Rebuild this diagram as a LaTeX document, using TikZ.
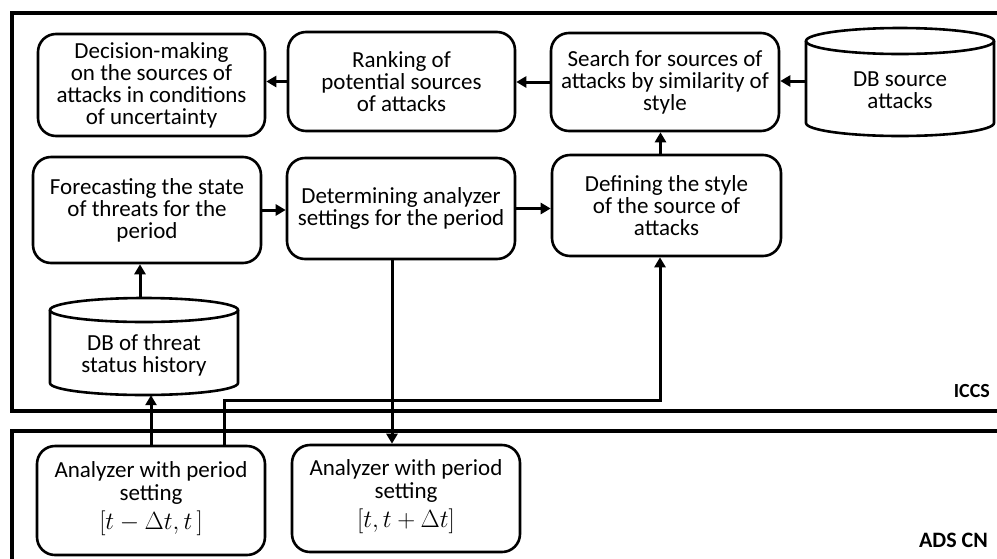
\documentclass[tikz,border=0pt]{standalone}
\usepackage{fontspec}
\setmainfont{Carlito}
\usetikzlibrary{arrows.meta}
% text block lifted inside its box without changing the box's size
\newcommand{\liftedlines}[2]{\raisebox{#1}[\height][\depth]{\begin{tabular}{@{}c@{}}#2\end{tabular}}}
\begin{document}
\begin{tikzpicture}[x=1pt,y=-1pt,
  box/.style={draw, line width=2.6pt, rounded corners=18pt, align=center,
    font=\fontsize{23}{22}\selectfont, inner sep=2pt},
  dbtext/.style={align=center, font=\fontsize{23}{22}\selectfont, inner sep=0pt},
  drum/.style={line width=2.6pt},
  frame/.style={line width=4pt},
  link/.style={line width=3pt, -{Triangle[length=10pt,width=11pt]}},
  tag/.style={font=\fontsize{20}{22}\selectfont\bfseries, inner sep=0pt}]
\useasboundingbox (0,0) rectangle (997,558);

% system frames, open on the right
\draw[frame] (1000,13) -- (12,13) -- (12,411) -- (1000,411);
\draw[frame] (1000,431) -- (12,431) -- (12,562);
\node[tag, anchor=base east] (iccs) at (990,397) {ICCS};
\node[tag, anchor=base east, font=\fontsize{22}{22}\selectfont\bfseries] (adscn) at (988,547) {ADS CN};

% process blocks
\node[box, minimum width=227pt, minimum height=102pt] (dec) at (151.5,85)
  {Decision-making\\on the sources of\\attacks in conditions\\of uncertainty};
\node[box, minimum width=227pt, minimum height=99pt] (rank) at (401.5,81.5)
  {Ranking of\\potential sources\\of attacks};
\node[box, minimum width=228pt, minimum height=98pt] (search) at (665,82)
  {Search for sources of\\attacks by similarity of\\style};
\node[box, minimum width=228pt, minimum height=106pt] (fore) at (147,210)
  {Forecasting the state\\of threats for the\\period};
\node[box, minimum width=228pt, minimum height=101pt] (det) at (401,208.5)
  {Determining analyzer\\settings for the period};
\node[box, minimum width=229pt, minimum height=101pt] (def) at (666.5,205.5)
  {Defining the style\\of the source of\\attacks};
\node[box, minimum width=228pt, minimum height=109pt, font=\fontsize{23}{23}\selectfont] (an1) at (151,500.5)
  {\liftedlines{1.5pt}{Analyzer with period\\setting\\[3pt]$[t-\Delta t,t\,]$}};
\node[box, minimum width=228pt, minimum height=107pt, font=\fontsize{23}{23}\selectfont] (an2) at (406,498.5)
  {\liftedlines{1.5pt}{Analyzer with period\\setting\\[3pt]$[t,t+\Delta t]$}};

% database drums
\draw[drum] (900,41) ellipse[x radius=94, y radius=13];
\draw[drum] (806,41) -- (806,123) arc[start angle=180, end angle=0, x radius=94, y radius=13] -- (994,41);
\node[dbtext, minimum width=188pt, minimum height=92pt] (dbs) at (900,90) {DB source\\attacks};

\draw[drum] (144,310) ellipse[x radius=94, y radius=12];
\draw[drum] (50,310) -- (50,383) arc[start angle=180, end angle=0, x radius=94, y radius=12] -- (238,310);
\node[dbtext, minimum width=188pt, minimum height=80pt] (dbt) at (144,355) {DB of threat\\status history};
\coordinate (dbttop) at (140,298);

% data flow
\draw[link] (rank.west) -- (rank.west -| dec.east);
\draw[link] (search.west) -- (search.west -| rank.east);
\draw[link] ([yshift=9pt]dbs.west) -- ([yshift=9pt]dbs.west -| search.east);
\draw[link] (fore.east) -- (fore.east -| det.west);
\draw[link] (det.east) -- (det.east -| def.west);
\draw[link] ([xshift=-6pt]def.north) -- ([xshift=-6pt]def.north |- search.south);
\draw[link] (dbttop) -- (dbttop |- fore.south);
\draw[link] (an1.north) -- (an1.north |- dbt.south);
\coordinate (bend) at (660,400);
\draw[link] ([xshift=73pt]an1.north) |- (bend) -- (bend |- def.south);
\draw[link] ([xshift=-9pt]det.south) -- ([xshift=-9pt]det.south |- an2.north);
\end{tikzpicture}
\end{document}
